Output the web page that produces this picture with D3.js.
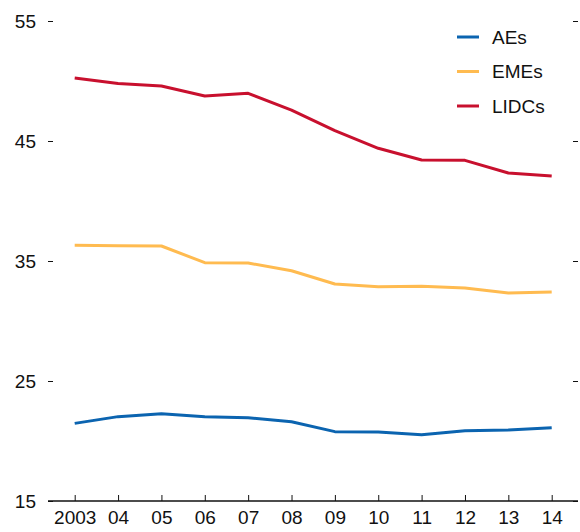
<!DOCTYPE html>
<html>
<head>
<meta charset="utf-8">
<script src="https://cdn.jsdelivr.net/npm/d3@7"></script>
<style>
  body { margin: 0; background: #fff; }
  text { font-family: "Liberation Sans Narrow", "Arial Narrow", "Liberation Sans", sans-serif; fill: #111; }
</style>
</head>
<body>
<div id="wrapper"></div>
<script>
const years = [2003, 2004, 2005, 2006, 2007, 2008, 2009, 2010, 2011, 2012, 2013, 2014];
const yearLabels = ["2003", "04", "05", "06", "07", "08", "09", "10", "11", "12", "13", "14"];
const aes = [21.47, 22.03, 22.28, 22.03, 21.94, 21.61, 20.78, 20.75, 20.53, 20.86, 20.92, 21.11];
const emes = [36.31, 36.28, 36.25, 34.86, 34.83, 34.19, 33.08, 32.86, 32.89, 32.75, 32.33, 32.42];
const lidcs = [50.25, 49.8, 49.58, 48.75, 48.97, 47.58, 45.86, 44.39, 43.42, 43.39, 42.33, 42.08];
const yTicks = [15, 25, 35, 45, 55];

const seriesNames = ["AEs", "EMEs", "LIDCs"];
const seriesColors = ["#0b64b0", "#ffbb50", "#c8102e"];
const seriesValues = [aes, emes, lidcs];

function buildPlot() {
    const dimension = {
        width: 580,
        height: 532,
        margin: { top: 21, left: 48, bottom: 31, right: 2 }
    };
    dimension.boundedWidth = dimension.width - dimension.margin.left - dimension.margin.right;
    dimension.boundedHeight = dimension.height - dimension.margin.top - dimension.margin.bottom;

    const svg = d3.select("#wrapper").append("svg")
        .attr("width", dimension.width)
        .attr("height", dimension.height);

    const bounded = svg.append("g")
        .attr("transform", `translate(${dimension.margin.left},${dimension.margin.top})`);

    // x: years sit inside the axis with some padding on each side
    const xScaler = d3.scaleLinear()
        .domain([2003, 2014])
        .range([26.7, 503.7]);

    const yScaler = d3.scaleLinear()
        .domain([15, 55])
        .range([dimension.boundedHeight, 0]);

    // left axis: only ticks + labels
    const yAxisLeft = bounded.append("g")
        .call(d3.axisLeft(yScaler).tickValues(yTicks).tickSize(-5).tickPadding(12).tickFormat(d3.format("d")));
    yAxisLeft.select(".domain").remove();
    yAxisLeft.selectAll(".tick line").attr("stroke", "#111").attr("stroke-width", 1);
    yAxisLeft.selectAll(".tick text").attr("font-size", 19).attr("x", -12);

    // right side ticks
    const yAxisRight = bounded.append("g")
        .attr("transform", `translate(${dimension.boundedWidth},0)`)
        .call(d3.axisRight(yScaler).tickValues(yTicks).tickSize(-5).tickFormat(""));
    yAxisRight.select(".domain").remove();
    yAxisRight.selectAll(".tick line").attr("stroke", "#111");

    // bottom axis
    const xAxis = bounded.append("g")
        .attr("transform", `translate(0,${dimension.boundedHeight})`)
        .call(d3.axisBottom(xScaler).tickValues(years).tickSize(-6).tickPadding(12)
            .tickFormat((d, i) => yearLabels[i]));
    xAxis.select(".domain")
        .attr("d", `M0,0H${dimension.boundedWidth}`)
        .attr("stroke", "#111").attr("stroke-width", 1.5);
    xAxis.selectAll(".tick line").attr("stroke", "#111");
    xAxis.selectAll(".tick text").attr("font-size", 19).attr("dy", "0.71em").attr("y", 10);

    const lineGenerator = d3.line()
        .x((d, i) => xScaler(years[i]))
        .y(d => yScaler(d));

    seriesValues.forEach((vals, k) => {
        bounded.append("path")
            .attr("fill", "none")
            .attr("stroke", seriesColors[k])
            .attr("stroke-width", 3)
            .attr("stroke-linejoin", "round")
            .attr("d", lineGenerator(vals));
    });

    // legend
    const legend = svg.append("g").attr("transform", "translate(457,37)");
    seriesNames.forEach((name, k) => {
        const row = legend.append("g").attr("transform", `translate(0,${k * 34.5})`);
        row.append("line")
            .attr("x1", 0).attr("x2", 22)
            .attr("stroke", seriesColors[k]).attr("stroke-width", 3);
        row.append("text")
            .attr("x", 35).attr("dy", "0.35em")
            .attr("font-size", 19)
            .text(name);
    });
}

buildPlot();
</script>
</body>
</html>
